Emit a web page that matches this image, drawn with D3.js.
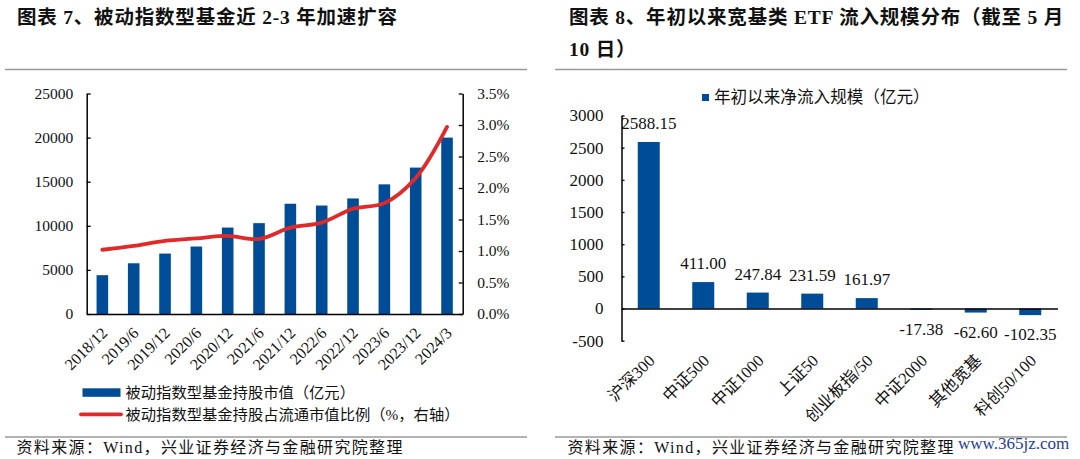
<!DOCTYPE html>
<html>
<head>
<meta charset="utf-8">
<script src="https://cdn.jsdelivr.net/npm/d3@7/dist/d3.min.js"></script>
<style>
  html, body { margin: 0; padding: 0; background: #fff; }
  svg { display: block; }
</style>
</head>
<body>
<svg id="chart" width="1080" height="459"></svg>
<script>
// ---------- data ----------
const periods = ["2018/12","2019/6","2019/12","2020/6","2020/12","2021/6","2021/12","2022/6","2022/12","2023/6","2023/12","2024/3"];
const holdingValue = [4400, 5750, 6850, 7650, 9800, 10300, 12500, 12300, 13100, 14700, 16600, 20000];
const holdingRatio = [1.02, 1.08, 1.16, 1.20, 1.24, 1.19, 1.37, 1.45, 1.67, 1.76, 2.16, 2.97];
const leftTicks = [0, 5000, 10000, 15000, 20000, 25000];
const ratioTicks = [0, 0.5, 1.0, 1.5, 2.0, 2.5, 3.0, 3.5];

const etfCats = ["沪深300","中证500","中证1000","上证50","创业板指/50","中证2000","其他宽基","科创50/100"];
const etfFlows = [2588.15, 411.00, 247.84, 231.59, 161.97, -17.38, -62.60, -102.35];
const flowTicks = [-500, 0, 500, 1000, 1500, 2000, 2500, 3000];

const titleL = "图表 7、被动指数型基金近 2-3 年加速扩容";
const titleR1 = "图表 8、年初以来宽基类 ETF 流入规模分布（截至 5 月";
const titleR2 = "10 日）";
const legendL1 = "被动指数型基金持股市值（亿元）";
const legendL2 = "被动指数型基金持股占流通市值比例（%，右轴）";
const legendR = "年初以来净流入规模（亿元）";
const source = "资料来源：Wind，兴业证券经济与金融研究院整理";
const watermark = "www.365jz.com";

// ---------- styles ----------
const FONT = '"Liberation Serif", "Times New Roman", "Noto Sans CJK SC", serif';
const BLUE = "#004c97";
const RED = "#e02a2a";
const GRAY = "#9a9a9a";
const hy = s => s.replace("\u2212", "-");

const svg = d3.select("#chart");

// ---------- headers / footers ----------
function titleText(x, y, t) {
  svg.append("text").attr("x", x).attr("y", y).attr("dominant-baseline", "central")
    .attr("font-family", FONT).attr("font-weight", 700).attr("font-size", 19.5)
    .attr("letter-spacing", 0.8).attr("fill", "#111").text(t);
}
titleText(17, 17, titleL);
titleText(569, 17, titleR1);
titleText(569, 49.5, titleR2);

function hline(x1, x2, y) {
  svg.append("line").attr("x1", x1).attr("x2", x2).attr("y1", y).attr("y2", y)
    .attr("stroke", GRAY).attr("stroke-width", 1.5);
}
hline(5, 527, 69.5);
hline(555, 1067, 69.5);
hline(5, 527, 437);
hline(555, 1067, 437);

function footer(x, y) {
  svg.append("text").attr("x", x).attr("y", y).attr("dominant-baseline", "central")
    .attr("font-family", FONT).attr("font-size", 16).attr("letter-spacing", 1.35)
    .attr("fill", "#111").text(source);
}
footer(16.5, 447.5);
footer(567.5, 447.5);

svg.append("text").attr("x", 958).attr("y", 443).attr("dominant-baseline", "central")
  .attr("font-family", FONT).attr("font-size", 17).attr("fill", "#22409a").text(watermark);

// ---------- left chart ----------
const L = { x0: 86.7, x1: 462.7, y0: 314, y1: 93.5 };
const xL = d3.scaleBand().domain(periods).range([L.x0, L.x1]).paddingInner(0.63).paddingOuter(0.315);
const yL = d3.scaleLinear().domain([0, 25000]).range([L.y0, L.y1]);
const yR = d3.scaleLinear().domain([0, 3.5]).range([L.y0, L.y1]);

const gL = svg.append("g");
gL.selectAll("rect.bar").data(holdingValue).join("rect").attr("class", "bar")
  .attr("x", (d, i) => xL(periods[i])).attr("width", xL.bandwidth())
  .attr("y", d => yL(d)).attr("height", d => yL(0) - yL(d))
  .attr("fill", BLUE);

const line = d3.line()
  .x((d, i) => xL(periods[i]) + xL.bandwidth() / 2)
  .y(d => yR(d))
  .curve(d3.curveCatmullRom.alpha(0.5));
gL.append("path").datum(holdingRatio).attr("d", line)
  .attr("fill", "none").attr("stroke", RED).attr("stroke-width", 3.8)
  .attr("stroke-linecap", "round").attr("stroke-linejoin", "round");

function styleAxis(g, fs) {
  g.selectAll("path.domain").attr("stroke", "#000").attr("stroke-width", 1.5);
  g.selectAll(".tick line").attr("stroke", "#000").attr("stroke-width", 1.3);
  g.selectAll(".tick text").attr("font-family", FONT).attr("font-size", fs).attr("fill", "#111");
}

const axL = gL.append("g").attr("transform", `translate(${L.x0},0)`)
  .call(d3.axisLeft(yL).tickValues(leftTicks).tickSizeInner(-4).tickSizeOuter(0).tickPadding(13.5).tickFormat(d3.format("d")));
styleAxis(axL, 15.5);

const axR = gL.append("g").attr("transform", `translate(${L.x1},0)`)
  .call(d3.axisRight(yR).tickValues(ratioTicks).tickSizeInner(-4).tickSizeOuter(0).tickPadding(14.5).tickFormat(d => d3.format(".1f")(d) + "%"));
styleAxis(axR, 15.5);

const axB = gL.append("g").attr("transform", `translate(0,${L.y0})`)
  .call(d3.axisBottom(xL).tickSize(0).tickSizeOuter(0));
axB.selectAll("path.domain").attr("stroke", "#000").attr("stroke-width", 1.5);
axB.selectAll(".tick text")
  .attr("font-family", FONT).attr("font-size", 16).attr("fill", "#111")
  .attr("text-anchor", "end").attr("dy", 0).attr("y", 0)
  .attr("transform", "translate(6,20) rotate(-45)");

// legend left
gL.append("rect").attr("x", 82.5).attr("y", 388.3).attr("width", 38).attr("height", 8.5).attr("fill", BLUE);
gL.append("text").attr("x", 125.5).attr("y", 392.5).attr("dominant-baseline", "central")
  .attr("font-family", FONT).attr("font-size", 15.3).attr("fill", "#111").text(legendL1);
gL.append("line").attr("x1", 81).attr("x2", 121).attr("y1", 414.3).attr("y2", 414.3)
  .attr("stroke", RED).attr("stroke-width", 3.8).attr("stroke-linecap", "round");
gL.append("text").attr("x", 125.5).attr("y", 414.5).attr("dominant-baseline", "central")
  .attr("font-family", FONT).attr("font-size", 15.3).attr("fill", "#111").text(legendL2);

// ---------- right chart ----------
const R = { x0: 621.5, x1: 1057.5, y0: 340.7, y1: 115.5 };
const xF = d3.scaleBand().domain(etfCats).range([R.x0, R.x1]).paddingInner(0.596).paddingOuter(0.298);
const yF = d3.scaleLinear().domain([-500, 3000]).range([R.y0, R.y1]);

const gR = svg.append("g");
gR.selectAll("rect.bar").data(etfFlows).join("rect").attr("class", "bar")
  .attr("x", (d, i) => xF(etfCats[i])).attr("width", xF.bandwidth())
  .attr("y", d => yF(Math.max(0, d))).attr("height", d => Math.abs(yF(d) - yF(0)))
  .attr("fill", BLUE);

gR.selectAll("text.val").data(etfFlows).join("text").attr("class", "val")
  .attr("x", (d, i) => xF(etfCats[i]) + xF.bandwidth() / 2)
  .attr("y", d => d >= 0 ? yF(d) - 18.5 : yF(d) + 19.5)
  .attr("dominant-baseline", "central").attr("text-anchor", "middle")
  .attr("font-family", FONT).attr("font-size", 17).attr("fill", "#111")
  .text(d => hy(d3.format(".2f")(d)));

const axF = gR.append("g").attr("transform", `translate(${R.x0},0)`)
  .call(d3.axisLeft(yF).tickValues(flowTicks).tickSizeInner(-3).tickSizeOuter(0).tickPadding(18).tickFormat(d => hy(d3.format("d")(d))));
styleAxis(axF, 17);

const axZ = gR.append("g").attr("transform", `translate(0,${yF(0)})`)
  .call(d3.axisBottom(xF).tickSize(0).tickSizeOuter(0).tickFormat(""));
axZ.selectAll("path.domain").attr("stroke", "#000").attr("stroke-width", 1.5);

gR.selectAll("text.cat").data(etfCats).join("text").attr("class", "cat")
  .attr("transform", d => `translate(${xF(d) + xF.bandwidth() / 2 + 7},${R.y0 + 21}) rotate(-45)`)
  .attr("text-anchor", "end")
  .attr("font-family", FONT).attr("font-size", 16.5).attr("fill", "#111")
  .text(d => d);

// legend right
gR.append("rect").attr("x", 702).attr("y", 94).attr("width", 7).attr("height", 7).attr("fill", BLUE);
gR.append("text").attr("x", 714).attr("y", 97.5).attr("dominant-baseline", "central")
  .attr("font-family", FONT).attr("font-size", 16.6).attr("fill", "#111").text(legendR);
</script>
</body>
</html>
